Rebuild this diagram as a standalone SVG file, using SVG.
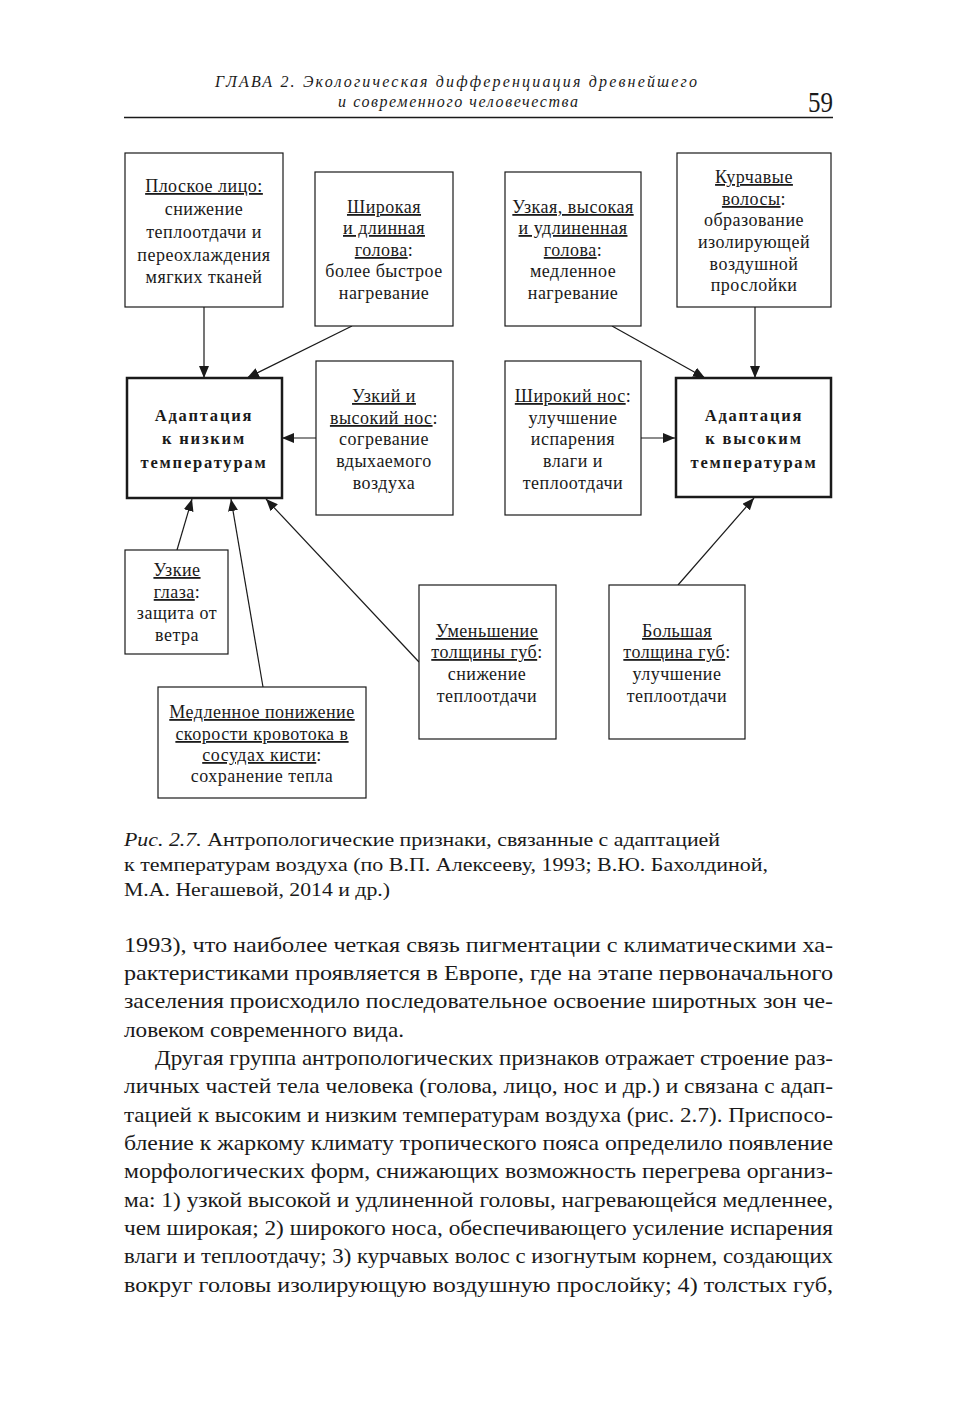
<svg xmlns="http://www.w3.org/2000/svg" width="975" height="1418" viewBox="0 0 975 1418">
<style>
.bx{fill:#fff;stroke:#1a1a1a;stroke-width:1.2}
.bb{fill:#fff;stroke:#1a1a1a;stroke-width:2.5}
.t{font-family:"Liberation Serif","DejaVu Serif",serif;font-size:18px;fill:#1a1a1a;text-anchor:middle;letter-spacing:0.5px}
.b{font-family:"Liberation Serif","DejaVu Serif",serif;font-size:16.5px;font-weight:bold;fill:#1a1a1a;text-anchor:middle;letter-spacing:1.8px}
.u{text-decoration:underline}
.c{fill:none;stroke:#1a1a1a;stroke-width:1.2}
.hd{font-family:"Liberation Serif","DejaVu Serif",serif;font-style:italic;font-size:16px;fill:#1a1a1a}
.pg{font-family:"Liberation Serif","DejaVu Serif",serif;font-size:30px;fill:#1a1a1a;text-anchor:end}
.cap{font-family:"Liberation Serif","DejaVu Serif",serif;font-size:19.5px;fill:#1a1a1a}
.bd{font-family:"Liberation Serif","DejaVu Serif",serif;font-size:21px;fill:#1a1a1a}
</style>
<defs>
<marker id="ah" markerUnits="userSpaceOnUse" markerWidth="12" markerHeight="10" refX="12" refY="5" orient="auto">
<path d="M0,0 L12,5 L0,10 z" fill="#1a1a1a"/>
</marker>
</defs>
<rect width="975" height="1418" fill="#fff"/>

<g id="header">
<text class="hd" x="215" y="87" textLength="482" lengthAdjust="spacing">ГЛАВА 2. Экологическая дифференциация древнейшего</text>
<text class="hd" x="338" y="107" textLength="240" lengthAdjust="spacing">и современного человечества</text>
<text class="pg" x="833" y="112" textLength="25" lengthAdjust="spacingAndGlyphs">59</text>
<line x1="124" y1="117.5" x2="833" y2="117.5" stroke="#1a1a1a" stroke-width="1.3"/>
</g>

<g id="connectors">
<line class="c" x1="204" y1="307" x2="204" y2="378" marker-end="url(#ah)"/>
<line class="c" x1="352" y1="326" x2="247" y2="378" marker-end="url(#ah)"/>
<line class="c" x1="316" y1="438" x2="282" y2="438" marker-end="url(#ah)"/>
<line class="c" x1="612" y1="326" x2="705" y2="378" marker-end="url(#ah)"/>
<line class="c" x1="755" y1="307" x2="755" y2="378" marker-end="url(#ah)"/>
<line class="c" x1="641" y1="438" x2="675" y2="438" marker-end="url(#ah)"/>
<line class="c" x1="177" y1="550" x2="192" y2="499" marker-end="url(#ah)"/>
<line class="c" x1="263" y1="687" x2="231" y2="499" marker-end="url(#ah)"/>
<line class="c" x1="419" y1="662" x2="266" y2="499" marker-end="url(#ah)"/>
<line class="c" x1="678" y1="585" x2="754" y2="498" marker-end="url(#ah)"/>
</g>

<g id="n1">
<rect class="bx" x="125" y="153" width="158" height="154"/>
<text class="t"><tspan x="204" y="192" class="u">Плоское лицо:</tspan><tspan x="204" y="215">снижение</tspan><tspan x="204" y="238">теплоотдачи и</tspan><tspan x="204" y="261">переохлаждения</tspan><tspan x="204" y="283">мягких тканей</tspan></text>
</g>
<g id="n2">
<rect class="bx" x="315" y="172" width="138" height="154"/>
<text class="t"><tspan x="384" y="213" class="u">Широкая</tspan><tspan x="384" y="234" class="u">и длинная</tspan><tspan x="384" y="256"><tspan class="u">голова</tspan>:</tspan><tspan x="384" y="277">более быстрое</tspan><tspan x="384" y="299">нагревание</tspan></text>
</g>
<g id="n3">
<rect class="bx" x="505" y="172" width="136" height="154"/>
<text class="t"><tspan x="573" y="213" class="u">Узкая, высокая</tspan><tspan x="573" y="234" class="u">и удлиненная</tspan><tspan x="573" y="256"><tspan class="u">голова</tspan>:</tspan><tspan x="573" y="277">медленное</tspan><tspan x="573" y="299">нагревание</tspan></text>
</g>
<g id="n4">
<rect class="bx" x="677" y="153" width="154" height="154"/>
<text class="t"><tspan x="754" y="183" class="u">Курчавые</tspan><tspan x="754" y="205"><tspan class="u">волосы</tspan>:</tspan><tspan x="754" y="226">образование</tspan><tspan x="754" y="248">изолирующей</tspan><tspan x="754" y="270">воздушной</tspan><tspan x="754" y="291">прослойки</tspan></text>
</g>
<g id="n5">
<rect class="bb" x="127" y="378" width="155" height="120"/>
<text class="b"><tspan x="204" y="421">Адаптация</tspan><tspan x="204" y="444">к низким</tspan><tspan x="204" y="468">температурам</tspan></text>
</g>
<g id="n6">
<rect class="bx" x="316" y="361" width="137" height="154"/>
<text class="t"><tspan x="384" y="402" class="u">Узкий и</tspan><tspan x="384" y="424"><tspan class="u">высокий нос</tspan>:</tspan><tspan x="384" y="445">согревание</tspan><tspan x="384" y="467">вдыхаемого</tspan><tspan x="384" y="489">воздуха</tspan></text>
</g>
<g id="n7">
<rect class="bx" x="505" y="361" width="136" height="154"/>
<text class="t"><tspan x="573" y="402"><tspan class="u">Широкий нос</tspan>:</tspan><tspan x="573" y="424">улучшение</tspan><tspan x="573" y="445">испарения</tspan><tspan x="573" y="467">влаги и</tspan><tspan x="573" y="489">теплоотдачи</tspan></text>
</g>
<g id="n8">
<rect class="bb" x="676" y="378" width="155" height="119"/>
<text class="b"><tspan x="754" y="421">Адаптация</tspan><tspan x="754" y="444">к высоким</tspan><tspan x="754" y="468">температурам</tspan></text>
</g>
<g id="n9">
<rect class="bx" x="125" y="550" width="103" height="104"/>
<text class="t"><tspan x="177" y="576" class="u">Узкие</tspan><tspan x="177" y="598"><tspan class="u">глаза</tspan>:</tspan><tspan x="177" y="619">защита от</tspan><tspan x="177" y="641">ветра</tspan></text>
</g>
<g id="n10">
<rect class="bx" x="158" y="687" width="208" height="111"/>
<text class="t"><tspan x="262" y="718" class="u">Медленное понижение</tspan><tspan x="262" y="740" class="u">скорости кровотока в</tspan><tspan x="262" y="761"><tspan class="u">сосудах кисти</tspan>:</tspan><tspan x="262" y="782">сохранение тепла</tspan></text>
</g>
<g id="n11">
<rect class="bx" x="419" y="585" width="137" height="154"/>
<text class="t"><tspan x="487" y="637" class="u">Уменьшение</tspan><tspan x="487" y="658"><tspan class="u">толщины губ</tspan>:</tspan><tspan x="487" y="680">снижение</tspan><tspan x="487" y="702">теплоотдачи</tspan></text>
</g>
<g id="n12">
<rect class="bx" x="609" y="585" width="136" height="154"/>
<text class="t"><tspan x="677" y="637" class="u">Большая</tspan><tspan x="677" y="658"><tspan class="u">толщина губ</tspan>:</tspan><tspan x="677" y="680">улучшение</tspan><tspan x="677" y="702">теплоотдачи</tspan></text>
</g>

<g id="caption">
<text class="cap" x="124" y="846" textLength="596" lengthAdjust="spacingAndGlyphs"><tspan font-style="italic">Рис. 2.7.</tspan> Антропологические признаки, связанные с адаптацией</text>
<text class="cap" x="124" y="871" textLength="644" lengthAdjust="spacingAndGlyphs">к температурам воздуха (по В.П. Алексееву, 1993; В.Ю. Бахолдиной,</text>
<text class="cap" x="124" y="896" textLength="266" lengthAdjust="spacingAndGlyphs">М.А. Негашевой, 2014 и др.)</text>
</g>

<g id="body">
<text class="bd" x="124" y="952" textLength="709" lengthAdjust="spacingAndGlyphs">1993), что наиболее четкая связь пигментации с климатическими ха-</text>
<text class="bd" x="124" y="980" textLength="709" lengthAdjust="spacingAndGlyphs">рактеристиками проявляется в Европе, где на этапе первоначального</text>
<text class="bd" x="124" y="1008" textLength="709" lengthAdjust="spacingAndGlyphs">заселения происходило последовательное освоение широтных зон че-</text>
<text class="bd" x="124" y="1037" textLength="280" lengthAdjust="spacingAndGlyphs">ловеком современного вида.</text>
<text class="bd" x="155" y="1065" textLength="678" lengthAdjust="spacingAndGlyphs">Другая группа антропологических признаков отражает строение раз-</text>
<text class="bd" x="124" y="1093" textLength="709" lengthAdjust="spacingAndGlyphs">личных частей тела человека (голова, лицо, нос и др.) и связана с адап-</text>
<text class="bd" x="124" y="1122" textLength="709" lengthAdjust="spacingAndGlyphs">тацией к высоким и низким температурам воздуха (рис. 2.7). Приспосо-</text>
<text class="bd" x="124" y="1150" textLength="709" lengthAdjust="spacingAndGlyphs">бление к жаркому климату тропического пояса определило появление</text>
<text class="bd" x="124" y="1178" textLength="709" lengthAdjust="spacingAndGlyphs">морфологических форм, снижающих возможность перегрева организ-</text>
<text class="bd" x="124" y="1207" textLength="709" lengthAdjust="spacingAndGlyphs">ма: 1) узкой высокой и удлиненной головы, нагревающейся медленнее,</text>
<text class="bd" x="124" y="1235" textLength="709" lengthAdjust="spacingAndGlyphs">чем широкая; 2) широкого носа, обеспечивающего усиление испарения</text>
<text class="bd" x="124" y="1263" textLength="709" lengthAdjust="spacingAndGlyphs">влаги и теплоотдачу; 3) курчавых волос с изогнутым корнем, создающих</text>
<text class="bd" x="124" y="1292" textLength="709" lengthAdjust="spacingAndGlyphs">вокруг головы изолирующую воздушную прослойку; 4) толстых губ,</text>
</g>
</svg>
